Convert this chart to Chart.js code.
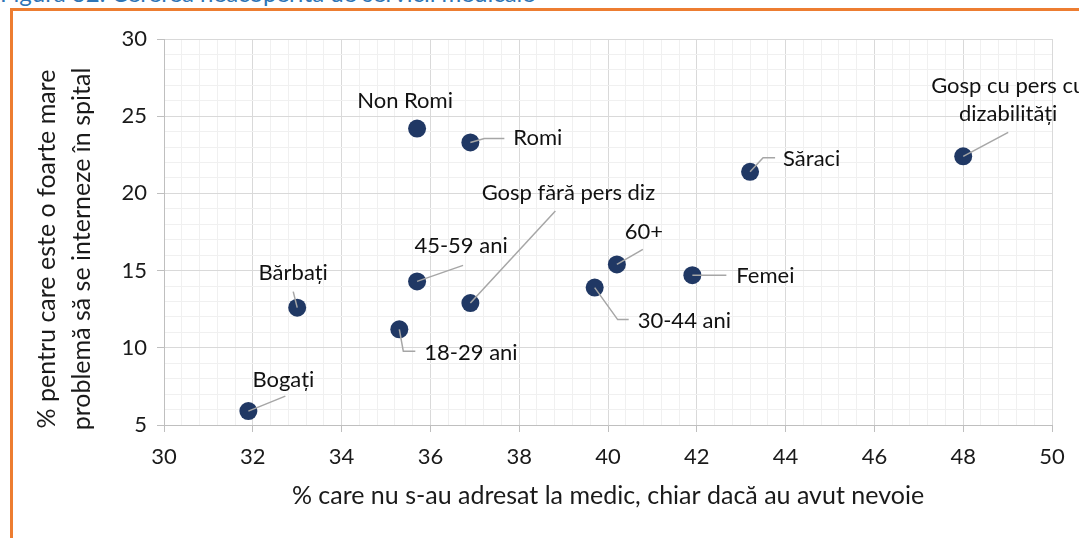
<!DOCTYPE html>
<html>
<head>
<meta charset="utf-8">
<script src="https://cdn.jsdelivr.net/npm/chart.js@4"></script>
<style>
  html, body { margin: 0; padding: 0; background: #fff; overflow: hidden; }
  #wrap { position: relative; width: 1079px; height: 538px; overflow: hidden; }
  #caption { position: absolute; left: 0; top: -22px; font-family: Lato, sans-serif; font-size: 24px; color: #2e75b6; white-space: nowrap; }
  #frame { position: absolute; left: 10px; top: 8px; width: 1200px; height: 700px; border: 3px solid #ed7d31; }
  #chart { position: absolute; left: 0; top: 0; }
</style>
</head>
<body>
<div id="wrap">
  <div id="caption">Figura 32: Cererea neacoperită de servicii medicale</div>
  <div id="frame"></div>
  <canvas id="chart" width="1079" height="538"></canvas>
</div>
<script>
// population groups
var groups = ['Bogați', 'Bărbați', '18-29 ani', '45-59 ani', 'Non Romi', 'Romi',
              'Gosp fără pers diz', '30-44 ani', '60+', 'Femei', 'Săraci',
              'Gosp cu pers cu\ndizabilități'];
// % who did not see a doctor although they needed to
var noDoctor = [31.9, 33.0, 35.3, 35.7, 35.7, 36.9, 36.9, 39.7, 40.2, 41.9, 43.2, 48.0];
// % for whom being hospitalised is a very big problem
var hospital = [5.9, 12.6, 11.2, 14.3, 24.2, 23.3, 12.9, 13.9, 15.4, 14.7, 21.4, 22.4];

var xMin = 30, xMax = 50, xMajor = 2, xMinor = 0.4;
var yMin = 5, yMax = 30, yMajor = 5, yMinor = 1;

var xTitle = '% care nu s-au adresat la medic, chiar dacă au avut nevoie';
var yTitle = ['% pentru care este o foarte mare', 'problemă să se interneze în spital'];

// where each label sits relative to its dot, plus the leader line bends
var labelPlace = [
  { dx: 35, dy: -31, align: 'center', leader: [[37, -15]] },
  { dx: -4, dy: -35, align: 'center', leader: [[-4, -16]] },
  { dx: 25, dy: 24, align: 'left', leader: [[4, 22], [16, 22]] },
  { dx: 44, dy: -36, align: 'center', leader: [[46, -16]] },
  { dx: -12, dy: -28, align: 'center', leader: [] },
  { dx: 43, dy: -5, align: 'left', leader: [[14, -4], [34, -4]] },
  { dx: 98, dy: -110, align: 'center', leader: [[85, -92]] },
  { dx: 43, dy: 33, align: 'left', leader: [[23, 32], [34, 32]] },
  { dx: 27, dy: -33, align: 'center', leader: [[26, -15]] },
  { dx: 44, dy: 1, align: 'left', leader: [[34, 0]] },
  { dx: 33, dy: -13, align: 'left', leader: [[13, -14], [25, -14]] },
  { dx: 45, dy: -56, align: 'center', leader: [[45, -24]] }
];

var points = [];
for (let i = 0; i < groups.length; i++) {
  points.push({ x: noDoctor[i], y: hospital[i] });
}

function isMajor(v, step) {
  let r = v / step;
  return Math.abs(r - Math.round(r)) < 1e-6;
}

var labelPlugin = {
  id: 'groupLabels',
  afterDatasetsDraw: function (chart) {
    let ctx = chart.ctx;
    let meta = chart.getDatasetMeta(0);
    ctx.save();
    ctx.font = '22px Lato';
    ctx.fillStyle = '#111111';
    ctx.textBaseline = 'middle';
    ctx.strokeStyle = '#a6a6a6';
    ctx.lineWidth = 1.5;
    for (let i = 0; i < meta.data.length; i++) {
      let p = meta.data[i];
      let place = labelPlace[i];
      if (place.leader.length) {
        ctx.beginPath();
        ctx.moveTo(p.x, p.y);
        for (let k = 0; k < place.leader.length; k++) {
          ctx.lineTo(p.x + place.leader[k][0], p.y + place.leader[k][1]);
        }
        ctx.stroke();
      }
      let lines = groups[i].split('\n');
      ctx.textAlign = place.align;
      for (let k = 0; k < lines.length; k++) {
        ctx.fillText(lines[k], p.x + place.dx, p.y + place.dy + (k - (lines.length - 1) / 2) * 28);
      }
    }
    ctx.restore();
  }
};

// y axis title, sitting a bit below the middle of the axis
var yTitlePlugin = {
  id: 'yTitle',
  afterDraw: function (chart) {
    let ctx = chart.ctx;
    let area = chart.chartArea;
    ctx.save();
    ctx.translate(47, (area.top + area.bottom) / 2 + 17);
    ctx.rotate(-Math.PI / 2);
    ctx.font = '25px Lato';
    ctx.fillStyle = '#1a1a1a';
    ctx.textAlign = 'center';
    ctx.textBaseline = 'middle';
    for (let k = 0; k < yTitle.length; k++) {
      ctx.fillText(yTitle[k], 0, k * 35);
    }
    ctx.restore();
  }
};

Chart.defaults.font.family = 'Lato';
Chart.defaults.color = '#1a1a1a';

new Chart(document.getElementById('chart'), {
  type: 'scatter',
  data: {
    datasets: [{
      data: points,
      backgroundColor: '#203864',
      borderWidth: 0,
      pointRadius: 9,
      pointHoverRadius: 9
    }]
  },
  options: {
    responsive: false,
    animation: false,
    layout: { padding: { top: 39, right: 27, left: 0, bottom: 0 } },
    plugins: { legend: { display: false }, tooltip: { enabled: false } },
    scales: {
      x: {
        type: 'linear',
        min: xMin,
        max: xMax,
        afterFit: function (scale) { scale.height = 113; },
        ticks: {
          stepSize: xMinor,
          autoSkip: false,
          maxRotation: 0,
          padding: 12,
          font: { size: 22 },
          callback: function (v) { return isMajor(v, xMajor) ? Math.round(v) : ''; }
        },
        grid: {
          color: function (c) { return isMajor(c.tick.value, xMajor) ? '#d9d9d9' : '#f0f0f0'; },
          tickColor: function (c) { return isMajor(c.tick.value, xMajor) ? '#bfbfbf' : 'rgba(0,0,0,0)'; },
          tickLength: 7
        },
        border: { color: '#bfbfbf' },
        title: { display: true, text: xTitle, font: { size: 25 }, padding: { top: 0, bottom: 27 } }
      },
      y: {
        type: 'linear',
        min: yMin,
        max: yMax,
        afterFit: function (scale) { scale.width = 164; },
        ticks: {
          stepSize: yMinor,
          autoSkip: false,
          padding: 10,
          font: { size: 22 },
          callback: function (v) { return isMajor(v, yMajor) ? v : ''; }
        },
        grid: {
          color: function (c) { return isMajor(c.tick.value, yMajor) ? '#d9d9d9' : '#f0f0f0'; },
          tickColor: function (c) { return isMajor(c.tick.value, yMajor) ? '#bfbfbf' : 'rgba(0,0,0,0)'; },
          tickLength: 7
        },
        border: { color: '#bfbfbf' }
      }
    }
  },
  plugins: [labelPlugin, yTitlePlugin]
});
</script>
</body>
</html>
